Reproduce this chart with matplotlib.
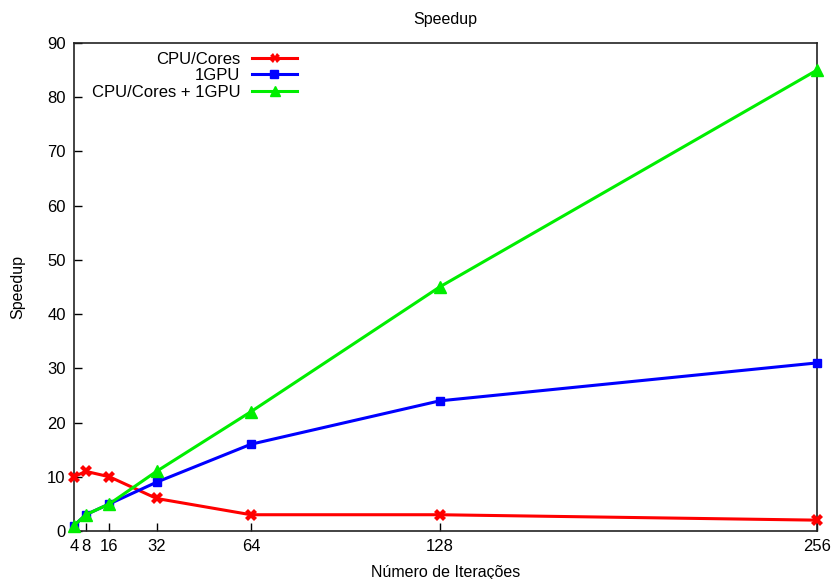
import matplotlib
matplotlib.use("Agg")
import matplotlib.pyplot as plt

plt.rcParams["font.family"] = ["Liberation Sans", "DejaVu Sans"]

iteracoes = [4, 8, 16, 32, 64, 128, 256]
cpu_cores = [10, 11, 10, 6, 3, 3, 2]
gpu1 = [1, 3, 5, 9, 16, 24, 31]
cpu_gpu = [1, 3, 5, 11, 22, 45, 85]
y_ticks = [0, 10, 20, 30, 40, 50, 60, 70, 80, 90]

fig = plt.figure(figsize=(8.32, 5.79), dpi=100)
ax = fig.add_axes([74 / 832, 1 - 531 / 579, (817 - 74) / 832, (531 - 43) / 579])

ax.plot(iteracoes, cpu_cores, color="#ff0000", linewidth=2.2, marker="X", markersize=8,
        markeredgewidth=0, label="CPU/Cores", clip_on=False, zorder=3)
ax.plot(iteracoes, gpu1, color="#0000ff", linewidth=2.2, marker="s", markersize=6,
        label="1GPU", clip_on=False, zorder=3)
ax.plot(iteracoes, cpu_gpu, color="#00ee00", linewidth=2.2, marker="^", markersize=9,
        label="CPU/Cores + 1GPU", clip_on=False, zorder=4)

ax.set_xlim(4, 256)
ax.set_ylim(0, 90)
ax.set_xticks(iteracoes)
ax.set_yticks(y_ticks)
ax.tick_params(direction="in", length=6, width=1, labelsize=12, pad=6,
               top=False, right=False)
for s in ax.spines.values():
    s.set_linewidth(1.2)
    s.set_color("#222222")

ax.set_title("Speedup", fontsize=11.5, pad=14)
ax.set_xlabel("Número de Iterações", fontsize=11.5, labelpad=8)
ax.set_ylabel("Speedup", fontsize=11.5, labelpad=16)

leg = ax.legend(loc="upper right", bbox_to_anchor=((297 - 74) / 743, (531 - 52) / 488),
                frameon=False, markerfirst=False, fontsize=12, handlelength=2.7,
                labelspacing=0.08, handletextpad=0.7, borderpad=0, borderaxespad=0,
                alignment="right", markerscale=0.85)
for t in leg.get_texts():
    t.set_ha("right")

fig.savefig("out.png", dpi=100)
